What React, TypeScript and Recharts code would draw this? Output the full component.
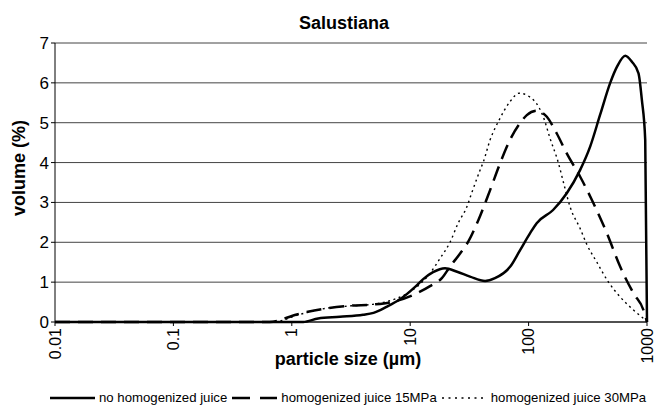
import { LineChart, Line, XAxis, YAxis, CartesianGrid, Legend } from "recharts";

// particle size (µm) / volume (%)
const noHomSize = [0.01, 0.1, 1, 1.25, 1.67, 2.55, 4.0, 4.9, 6.3, 8.2, 11, 12.8, 15.6, 19.7, 24.9, 32, 42.9, 52, 70, 85, 103, 117, 161, 210, 272, 331, 402, 489, 557, 655, 745, 848, 905, 966, 1000];
const noHomVol = [0, 0, 0, 0, 0.09, 0.13, 0.18, 0.23, 0.38, 0.57, 0.88, 1.07, 1.25, 1.35, 1.26, 1.14, 1.03, 1.1, 1.39, 1.81, 2.23, 2.48, 2.81, 3.23, 3.81, 4.4, 5.2, 6.0, 6.4, 6.68, 6.53, 6.24, 5.57, 4.57, 0];

const hom15Size = [0.01, 0.65, 1.1, 1.84, 3.1, 4.9, 7.2, 12.1, 14.7, 18.5, 21.7, 26.4, 31, 37.7, 47.3, 57.4, 69.7, 84.7, 96.6, 117, 142.6, 173, 210, 272, 353, 458, 593, 769, 934, 1000];
const hom15Vol = [0, 0, 0.19, 0.33, 0.41, 0.44, 0.51, 0.76, 0.9, 1.1, 1.39, 1.72, 2.02, 2.56, 3.31, 3.98, 4.57, 4.99, 5.19, 5.3, 5.15, 4.73, 4.23, 3.65, 2.98, 2.23, 1.39, 0.72, 0.3, 0];

const hom30Size = [0.01, 0.68, 1.2, 2, 3, 5, 7, 9, 11, 14.7, 17.9, 21.7, 25.4, 30.1, 33, 38.9, 41.5, 47.3, 56, 69.7, 83.2, 110, 133, 152, 179, 197, 224, 272, 310, 377, 473, 593, 769, 1000];
const hom30Vol = [0, 0, 0.2, 0.35, 0.4, 0.45, 0.55, 0.68, 0.85, 1.22, 1.6, 2.0, 2.48, 2.89, 3.23, 3.81, 4.02, 4.57, 5.05, 5.53, 5.74, 5.57, 5.15, 4.6, 3.98, 3.5, 2.89, 2.35, 1.95, 1.5, 1.0, 0.63, 0.3, 0.02];

const xTicks = [0.01, 0.1, 1, 10, 100, 1000];
const yTicks = [0, 1, 2, 3, 4, 5, 6, 7];

const FONT = '"Liberation Sans", Arial, sans-serif';

const zip = (xs: number[], ys: number[]) => xs.map((x, i) => ({ x, y: ys[i] }));

const series = [
  { name: "no homogenized juice", data: zip(noHomSize, noHomVol), width: 2.5, dash: undefined, legendDash: undefined },
  { name: "homogenized juice 15MPa", data: zip(hom15Size, hom15Vol), width: 2.5, dash: "15 8", legendDash: "18 10" },
  { name: "homogenized juice 30MPa", data: zip(hom30Size, hom30Vol), width: 1.4, dash: "2 3.5", legendDash: "2 4.5" },
];

function XTick({ x, y, payload }: any) {
  return (
    <text
      x={x}
      y={y}
      dy="0.35em"
      textAnchor="end"
      transform={`rotate(-90, ${x}, ${y})`}
      fill="#000"
      fontSize={16}
      fontFamily={FONT}
    >
      {payload.value}
    </text>
  );
}

function ChartLegend() {
  return (
    <div style={{ display: "flex", alignItems: "center", fontFamily: FONT, fontSize: 13.2, color: "#000", paddingLeft: 50 }}>
      {series.map((s, i) => (
        <div key={s.name} style={{ display: "flex", alignItems: "center", marginRight: i < series.length - 1 ? 5 : 0 }}>
          <svg width={45} height={10}>
            <line x1={0} y1={5} x2={45} y2={5} stroke="#000" strokeWidth={s.width} strokeDasharray={s.legendDash} />
          </svg>
          <span style={{ marginLeft: 4, whiteSpace: "nowrap" }}>{s.name}</span>
        </div>
      ))}
    </div>
  );
}

export default function App() {
  return (
    <div style={{ position: "absolute", left: 0, top: 0, width: 659, height: 405, background: "#fff" }}>
      <LineChart width={659} height={405} margin={{ top: 43, right: 12, bottom: 23, left: 0 }}>
        <CartesianGrid vertical={false} stroke="#444" />
        <XAxis
          dataKey="x"
          type="number"
          scale="log"
          domain={[0.01, 1000]}
          ticks={xTicks}
          allowDuplicatedCategory={false}
          height={60}
          tickSize={4}
          tickMargin={2}
          stroke="#000"
          tick={<XTick />}
          interval={0}
        />
        <YAxis
          type="number"
          domain={[0, 7]}
          ticks={yTicks}
          width={55}
          tickSize={4}
          tickMargin={2}
          stroke="#000"
          tick={{ fill: "#000", fontSize: 17, fontFamily: FONT }}
          interval={0}
        />
        {series.map((s) => (
          <Line
            key={s.name}
            data={s.data}
            dataKey="y"
            name={s.name}
            type="monotone"
            stroke="#000"
            strokeWidth={s.width}
            strokeDasharray={s.dash}
            dot={false}
            activeDot={false}
            isAnimationActive={false}
          />
        ))}
        <Legend
          verticalAlign="middle"
          align="center"
          layout="horizontal"
          content={<ChartLegend />}
          wrapperStyle={{ top: 390, left: 0, width: 659 }}
        />
      </LineChart>
      <svg width={659} height={405} style={{ position: "absolute", left: 0, top: 0, pointerEvents: "none" }}>
        <text x={344} y={29} textAnchor="middle" fontFamily={FONT} fontWeight="bold" fontSize={18} fill="#000">
          Salustiana
        </text>
        <text
          x={25}
          y={168}
          textAnchor="middle"
          transform="rotate(-90, 25, 168)"
          fontFamily={FONT}
          fontWeight="bold"
          fontSize={18}
          fill="#000"
        >
          volume (%)
        </text>
        <text x={348} y={365} textAnchor="middle" fontFamily={FONT} fontWeight="bold" fontSize={18} fill="#000">
          particle size (µm)
        </text>
      </svg>
    </div>
  );
}
